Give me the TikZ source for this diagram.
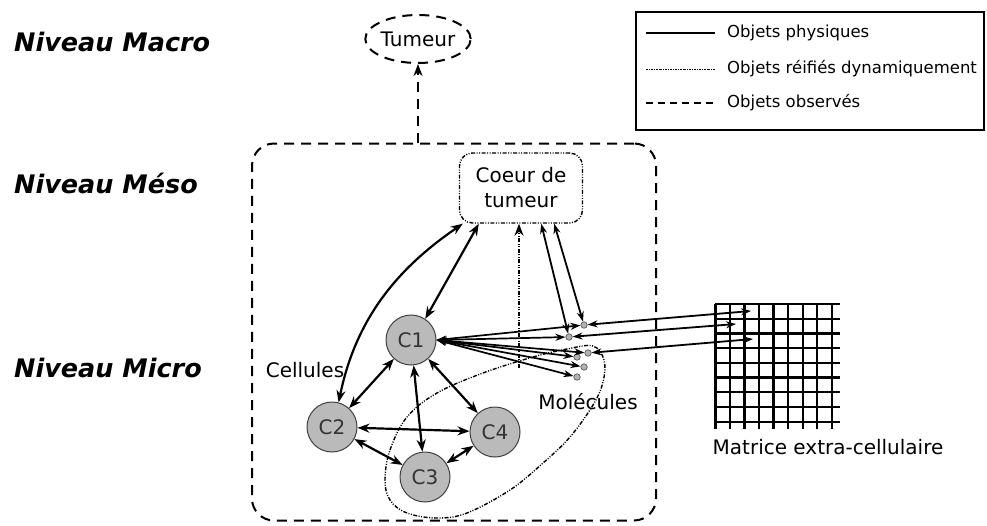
\documentclass[tikz,border=0pt]{standalone}
\usepackage{fontspec}
\setmainfont{DejaVu Sans}
\usetikzlibrary{arrows.meta,shapes.geometric,calc}
\begin{document}
\begin{tikzpicture}[x=1pt,y=-1pt,
  lvl/.style={font=\fontsize{25.5}{28}\selectfont\bfseries\itshape, anchor=west, inner sep=0pt},
  lbl/.style={font=\fontsize{20}{23}\selectfont, inner sep=0pt},
  leg/.style={font=\fontsize{16.5}{18}\selectfont, anchor=west, inner sep=0pt},
  obs/.style={dash pattern=on 10pt off 7pt, line width=2pt},
  phys/.style={line width=2.2pt},
  reif/.style={dash pattern=on 4pt off 1.5pt on 1pt off 1.5pt on 1pt off 1.5pt, line width=1.4pt},
  cell/.style={circle, draw=black!75, line width=1pt, fill=black!27, minimum size=50pt, inner sep=0pt, font=\fontsize{20}{23}\selectfont, text=black!80},
  mol/.style={circle, draw=black!70, fill=black!30, line width=0.6pt, minimum size=6.5pt, inner sep=0pt},
  biarrow/.style={{Stealth[length=12pt,width=9pt]}-{Stealth[length=12pt,width=9pt]}},
  biarrowsm/.style={{Stealth[length=10pt,width=7pt]}-{Stealth[length=10pt,width=7pt]}},
  uparrow/.style={-{Stealth[length=12pt,width=9pt]}},
  gridl/.style={line width=2.2pt}
]
\useasboundingbox (0,0) rectangle (987,525);

% level labels
\node[lvl] (macro) at (14,42) {Niveau Macro};
\node[lvl] (meso) at (14,183) {Niveau Méso};
\node[lvl] (micro) at (14,368) {Niveau Micro};

% legend
\node[draw, line width=2.4pt, minimum width=348pt, minimum height=118pt, inner sep=0pt] (legend) at (810,71) {};
\coordinate (l1a) at (646,33); \coordinate (l1b) at (715,33);
\coordinate (l2a) at (646,69); \coordinate (l2b) at (715,69);
\coordinate (l3a) at (646,103); \coordinate (l3b) at (715,103);
\draw[line width=2pt] (l1a) -- (l1b);
\draw[dash pattern=on 2pt off 1pt on 0.8pt off 1pt, line width=1pt] (l2a) -- (l2b);
\draw[dash pattern=on 7pt off 5pt, line width=2.4pt] (l3a) -- (l3b);
\node[leg] (t1) at (727,33) {Objets physiques};
\node[leg] (t2) at (727,69) {Objets réifiés dynamiquement};
\node[leg] (t3) at (727,103) {Objets observés};

% Tumeur
\node[ellipse, obs, draw, minimum width=104pt, minimum height=48pt, inner sep=0pt, lbl] (tumeur) at (418,39) {Tumeur};

% big meso box
\node[draw, obs, rounded corners=22pt, minimum width=404pt, minimum height=377pt, inner sep=0pt] (meso box) at (454,332) {};
\draw[obs, uparrow] (meso box.north -| tumeur.south) -- (tumeur.south);

% coeur
\node[draw, reif, rounded corners=13pt, minimum width=123pt, minimum height=70pt, align=center, lbl, inner sep=0pt] (coeur) at (521,188) {Coeur de\\[2pt]tumeur};

% cells
\node[cell] (c1) at (411,340) {C1};
\node[cell] (c2) at (332,427) {C2};
\node[cell] (c3) at (425,477) {C3};
\node[cell] (c4) at (495,432) {C4};

\node[lbl] (cellules) at (305,370) {Cellules};
\node[lbl] (molecules) at (588,402) {Molécules};

% molecules blob
\draw[reif] plot[smooth cycle, tension=0.6] coordinates {(385,480) (390,450) (407,417) (437,393) (483,373) (533,357) (567,349) (593,346) (604,360) (603,382) (593,405) (570,437) (543,463) (510,490) (467,513) (437,518) (407,513) (390,500)};

% molecule dots
\node[mol] (m1) at (584,325) {};
\node[mol] (m2) at (569,337) {};
\node[mol] (m3) at (588,353) {};
\node[mol] (m4) at (577,357) {};
\node[mol] (m5) at (584,367) {};
\node[mol] (m6) at (577,377) {};

% vertical reified link to coeur
\coordinate (vbase) at (519,368);
\draw[reif, line width=1.8pt, uparrow] (vbase) -- (vbase |- coeur.south);

% cell-cell links
\draw[phys, biarrow] (c1) -- (c2);
\draw[phys, biarrow] (c1) -- (c3);
\draw[phys, biarrow] (c1) -- (c4);
\draw[phys, biarrow] (c2) -- (c4);
\draw[phys, biarrow] (c2) -- (c3);
\draw[phys, biarrow] (c3) -- (c4);

% coeur links
\draw[phys, biarrow] ([xshift=4pt]coeur.south west) .. controls (398,268) and (356,318) .. (c2.75);
\draw[phys, biarrow] ([xshift=20pt]coeur.south west) -- (c1.56);
\draw[phys, line width=1.8pt, biarrowsm] ([xshift=-42pt]coeur.south east) -- (m2);
\draw[phys, line width=1.8pt, biarrowsm] ([xshift=-29pt]coeur.south east) -- (m1);

% C1 - molecules
\foreach \m in {m1,m2,m3,m4,m5,m6}{
  \draw[line width=1.7pt, biarrowsm] (c1.east) -- (\m);
}

% matrix
\foreach \x in {715,729.6,744.2,758.8,773.4,788,802.6,817.2,831.8}{
  \draw[gridl] (\x,304) -- (\x,429);
}
\foreach \y in {304,318.7,333.4,348.1,362.8,377.5,392.2,406.9,421.6}{
  \draw[gridl] (715,\y) -- (840,\y);
}
\draw[line width=3pt] (744.2,304) -- (744.2,429);
\draw[line width=3pt] (715,304) -- (715,429);
\node[lbl, anchor=center] (matrice) at (828,447) {Matrice extra-cellulaire};

\coordinate (x1) at (751,311);
\coordinate (x2) at (736,324);
\coordinate (x3) at (753,339);
\draw[line width=1.8pt, biarrowsm] (m1) -- (x1);
\draw[line width=1.8pt, biarrowsm] (m2) -- (x2);
\draw[line width=1.8pt, biarrowsm] (m3) -- (x3);
\end{tikzpicture}
\end{document}
